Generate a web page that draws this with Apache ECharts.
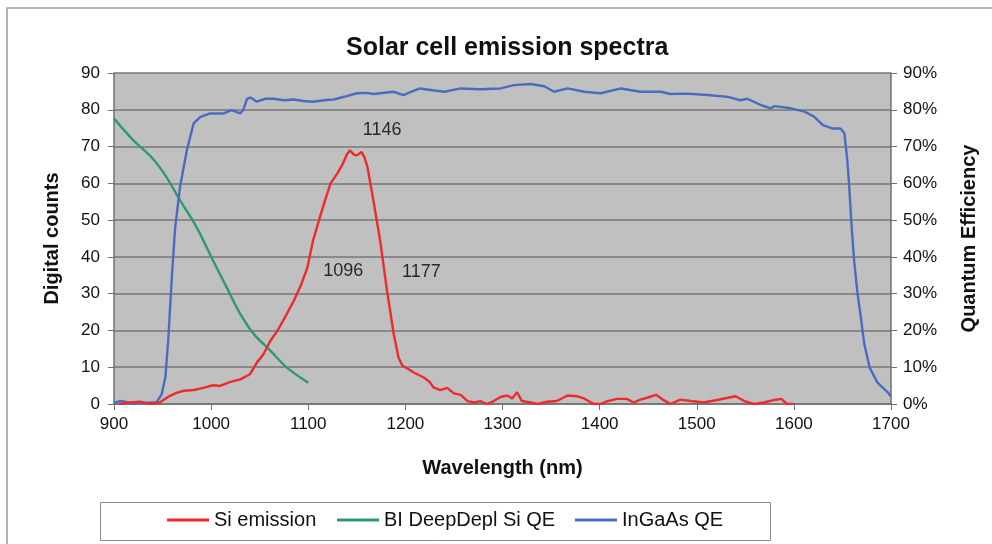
<!DOCTYPE html>
<html>
<head>
<meta charset="utf-8">
<script src="https://cdn.jsdelivr.net/npm/echarts@6/dist/echarts.min.js"></script>
<style>
html,body{margin:0;padding:0;background:#fff;}
#chart{width:992px;height:544px;}
</style>
</head>
<body>
<div id="chart"></div>
<script>
// Wavelength (nm), Digital counts
const siEmission = [
  [905,0],[916,0.4],[927,0.6],[937,0],[947,0.4],[956,2],[965,3.1],[972,3.6],[982,3.8],[992,4.4],
  [1002,5.1],[1009,4.9],[1020,6],[1030,6.7],[1040,8.1],[1047,11.2],[1054,13.6],[1061,17.2],[1068,19.8],
  [1074,22.6],[1085,28],[1092,32],[1099,37],[1105,44.5],[1112,50.8],[1118,56],[1123,60],[1130,62.7],
  [1135,65],[1140,68],[1143,69],[1147,67.8],[1150,67.6],[1155,68.5],[1158,67],[1161,64.4],[1167,55.4],
  [1174,44.5],[1181,31],[1188,19],[1193,12.6],[1197,10.4],[1203,9.5],[1209,8.5],[1219,7.2],[1225,6],
  [1229,4.5],[1236,3.8],[1243,4.4],[1250,2.9],[1257,2.5],[1264,0.8],[1271,0.4],[1277,0.8],[1284,0],
  [1291,0.8],[1298,1.9],[1305,2.3],[1310,1.5],[1315,3.2],[1320,0.8],[1329,0.4],[1336,0],[1346,0.6],
  [1356,0.8],[1367,2.3],[1377,2.1],[1384,1.5],[1394,0],[1401,0],[1408,0.8],[1418,1.4],[1428,1.4],
  [1435,0.4],[1442,1.2],[1449,1.7],[1458,2.5],[1465,1.2],[1473,0],[1483,1.2],[1494,0.8],[1507,0.4],
  [1521,1.1],[1532,1.7],[1540,2.1],[1549,0.8],[1559,0],[1569,0.4],[1580,1.1],[1587,1.4],[1593,0],[1600,0]
];
// Wavelength (nm), Quantum efficiency (%)
const biDeepDeplQE = [
  [900,77.6],[920,71.7],[940,66.7],[954,61.7],[968,55.4],[985,48.1],[1002,39],[1016,31.7],
  [1030,24.5],[1044,19],[1061,14.5],[1078,9.9],[1100,5.8]
];
const inGaAsQE = [
  [900,0.3],[906,0.8],[912,0.6],[920,0],[930,0.3],[944,0.5],[949,2.6],[953,7.5],[956,18],[959.5,34.4],
  [963,48.1],[968,59],[975,69],[982,76.3],[989,78.1],[999,79],[1013,79],[1021,79.9],[1030,79],[1033,79.9],
  [1037,83],[1041,83.3],[1047,82.2],[1056,83],[1064,83],[1075,82.6],[1085,82.8],[1095,82.4],[1105,82.2],
  [1116,82.6],[1126,82.8],[1138,83.6],[1150,84.5],[1160,84.6],[1167,84.3],[1174,84.5],[1188,84.9],
  [1198,84],[1207,85],[1215,85.8],[1228,85.3],[1240,84.9],[1257,85.8],[1277,85.6],[1298,85.8],
  [1312,86.7],[1329,87],[1343,86.4],[1353,84.9],[1367,85.8],[1384,84.9],[1401,84.5],[1422,85.8],
  [1442,84.9],[1463,84.9],[1473,84.3],[1490,84.4],[1511,84],[1532,83.5],[1545,82.6],[1552,83],
  [1566,81.3],[1576,80.4],[1580,81],[1597,80.4],[1611,79.5],[1621,78.1],[1630,75.8],[1640,74.9],
  [1648,74.9],[1652,73.6],[1655,66.3],[1657,59],[1659.5,48.1],[1662,39],[1665.6,29.9],[1669,23.5],
  [1672.5,16.3],[1678,9.9],[1686,5.8],[1697,3.1],[1700,2]
];
// Peak annotations: [x, y(counts), text]
const annotations = [
  [1176, 74.4, '1146'],
  [1136, 36.2, '1096'],
  [1216.5, 36, '1177']
];
const seriesNames = ['Si emission', 'BI DeepDepl Si QE', 'InGaAs QE'];
const seriesColors = ['#ee2a2a', '#2f9a6a', '#4a6cc0'];
const xTicks = {min: 900, max: 1700, interval: 100};
const yLeft = {min: 0, max: 90, interval: 10};
const yRight = {min: 0, max: 90, interval: 10};

const FONT = '"Liberation Sans", Arial, sans-serif';
const legendLefts = [167, 337, 575];
const chart = echarts.init(document.getElementById('chart'));
chart.setOption({
  animation: false,
  backgroundColor: '#ffffff',
  textStyle: {fontFamily: FONT},
  title: {
    text: 'Solar cell emission spectra',
    left: 341, top: 31,
    textStyle: {fontFamily: FONT, fontSize: 25, fontWeight: 'bold', color: '#111'}
  },
  graphic: [{
    type: 'rect', silent: true, z: -1,
    shape: {x: 7, y: 8, width: 1200, height: 1000},
    style: {fill: 'none', stroke: '#9c9c9c', lineWidth: 1.5}
  }, {
    type: 'rect', silent: true, z: -1,
    shape: {x: 100.5, y: 502.5, width: 670, height: 38},
    style: {fill: '#fff', stroke: '#8a8a8a', lineWidth: 1}
  }],
  legend: seriesNames.map((n, i) => ({
    data: [n],
    left: legendLefts[i], top: 510,
    padding: 0,
    itemWidth: 42, itemHeight: 3, itemGap: 6,
    icon: 'rect',
    textStyle: {fontFamily: FONT, fontSize: 20, color: '#111'}
  })),
  grid: {left: 114, right: 101, top: 73, bottom: 140, show: true,
         backgroundColor: '#c0c0c0', borderWidth: 0},
  xAxis: {
    type: 'value', min: xTicks.min, max: xTicks.max, interval: xTicks.interval,
    name: 'Wavelength (nm)', nameLocation: 'middle', nameGap: 54,
    nameTextStyle: {fontFamily: FONT, fontSize: 20, fontWeight: 'bold', color: '#111'},
    axisLine: {lineStyle: {color: '#707070', width: 1.5}},
    axisTick: {show: true, length: 6, lineStyle: {color: '#707070'}},
    axisLabel: {fontFamily: FONT, fontSize: 17, color: '#111', margin: 12, formatter: v => String(v)},
    splitLine: {show: false}
  },
  yAxis: [{
    type: 'value', min: yLeft.min, max: yLeft.max, interval: yLeft.interval,
    name: 'Digital counts', nameLocation: 'middle', nameGap: 52,
    nameTextStyle: {fontFamily: FONT, fontSize: 20, fontWeight: 'bold', color: '#111'},
    axisLine: {show: true, lineStyle: {color: '#707070', width: 1.5}},
    axisTick: {show: true, length: 6, lineStyle: {color: '#707070'}},
    axisLabel: {fontFamily: FONT, fontSize: 17, color: '#111', margin: 14},
    splitLine: {show: true, lineStyle: {color: '#777777', width: 1.5}}
  }, {
    type: 'value', position: 'right', min: yRight.min, max: yRight.max, interval: yRight.interval,
    name: 'Quantum Efficiency', nameLocation: 'middle', nameGap: 68,
    nameTextStyle: {fontFamily: FONT, fontSize: 20, fontWeight: 'bold', color: '#111'},
    axisLine: {show: true, lineStyle: {color: '#707070', width: 1.5}},
    axisTick: {show: true, length: 6, lineStyle: {color: '#707070'}},
    axisLabel: {fontFamily: FONT, fontSize: 17, color: '#111', margin: 12, formatter: '{value}%'},
    splitLine: {show: false}
  }],
  series: [{
    name: seriesNames[0], type: 'line', yAxisIndex: 0, data: siEmission,
    showSymbol: false, lineStyle: {color: seriesColors[0], width: 2.4}, itemStyle: {color: seriesColors[0]}, z: 3
  }, {
    name: seriesNames[1], type: 'line', yAxisIndex: 1, data: biDeepDeplQE,
    showSymbol: false, smooth: 0.3, lineStyle: {color: seriesColors[1], width: 2.4}, itemStyle: {color: seriesColors[1]}, z: 2
  }, {
    name: seriesNames[2], type: 'line', yAxisIndex: 1, data: inGaAsQE,
    showSymbol: false, lineStyle: {color: seriesColors[2], width: 2.4}, itemStyle: {color: seriesColors[2]}, z: 2
  }, {
    name: 'labels', type: 'scatter', yAxisIndex: 0, symbolSize: 0, silent: true,
    data: annotations.map(a => ({value: [a[0], a[1]], name: a[2]})),
    label: {show: true, position: 'inside', formatter: p => p.name,
            fontFamily: FONT, fontSize: 18, color: '#000'}
  }]
});
</script>
</body>
</html>
